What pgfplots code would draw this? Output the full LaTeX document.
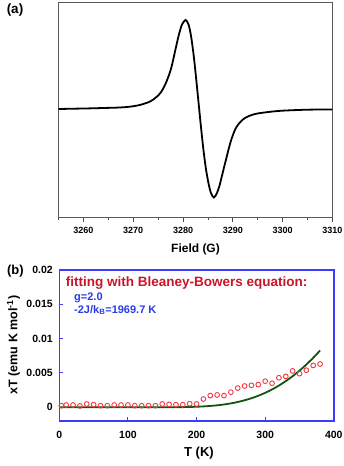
\documentclass[border=0pt]{standalone}
\usepackage{fontspec}
\setmainfont{Liberation Sans}
\usepackage{pgfplots}
\pgfplotsset{compat=1.18}
\definecolor{fitred}{RGB}{204,20,40}
\definecolor{txtblue}{RGB}{40,60,230}
\definecolor{frameblue}{RGB}{60,60,255}
\definecolor{circred}{RGB}{245,55,65}
\definecolor{fitgreen}{RGB}{20,85,20}
\newcommand{\fs}[1]{\fontsize{#1}{#1}\selectfont\bfseries}

\pgfplotstableread{
G y
3255 0
3258 0.3
3261 0.6
3264 1.0
3267.3 1.5
3269.3 2.3
3271.3 4
3273.3 7.3
3274.6 11.7
3275.6 17
3276.6 26.5
3277.6 40.5
3278.5 60
3279.2 75
3279.8 84.5
3280.5 89
3281.1 84.5
3281.6 73
3282.1 55
3282.6 32
3283.1 7
3283.6 -18
3284.1 -41
3284.6 -60
3285.1 -74
3285.6 -84
3286.2 -88.5
3286.8 -84
3287.3 -77
3287.8 -67
3288.6 -51
3289.6 -32
3290.6 -19
3291.6 -12.5
3292.6 -8.5
3294.3 -5.2
3296.3 -3.5
3299.3 -1.9
3303 -1.0
3306 -0.6
3310 -0.5
}\eprdata

\pgfplotstableread{
T chiT
3 0.00023
10 0.00033
20 0.00033
30 0.00019
40 0.00048
50 0.00038
60 0.00023
70 0.00023
80 0.00033
90 0.00033
100 0.00033
110 0.00023
120 0.00023
130 0.00023
140 0.00023
150 0.00048
160 0.00043
170 0.00038
180 0.00038
190 0.00052
200 0.00048
210 0.0012
220 0.0017
230 0.0018
240 0.0017
250 0.0022
260 0.0028
270 0.0031
280 0.0032
290 0.0033
300 0.0038
310 0.0035
320 0.0043
330 0.0045
340 0.0053
350 0.0049
360 0.0054
370 0.0061
380 0.0063
}\expdata

\pgfplotstableread{
T chiT
0 0
50 0
100 0
150 0.000002
180 0.000025
190 0.000047
200 0.000079
210 0.000127
220 0.000194
230 0.000286
240 0.000409
250 0.000567
260 0.000768
270 0.001017
280 0.001318
290 0.001679
300 0.002103
310 0.002596
320 0.003163
330 0.003807
340 0.004529
350 0.005338
360 0.006228
370 0.007208
380 0.00827
}\fitdata

\begin{document}
\begin{tikzpicture}
\useasboundingbox (0pt,0pt) rectangle (344pt,-466pt);

% ---------- (a) EPR spectrum ----------
\begin{axis}[
  at={(58.5pt,-217pt)}, anchor=south west,
  scale only axis, width=274pt, height=214.5pt,
  xmin=3255, xmax=3310, ymin=-108, ymax=106.5,
  axis line style={black!65, line width=0.8pt},
  xtick={3260,3270,...,3310},
  minor xtick={3255,3265,...,3305},
  ytick=\empty,
  xtick pos=left,
  tick align=outside,
  major tick length=5pt, minor tick length=3pt,
  tick style={black!70, line width=0.8pt},
  /pgf/number format/assume math mode=true,
  /pgf/number format/1000 sep={},
  xticklabel style={font=\fs{9}, yshift=-1.5pt},
]
\addplot[black, line width=1.8pt, smooth, tension=0.5] table[x=G, y=y] {\eprdata};
\end{axis}

% ---------- (b) chi T vs T ----------
\begin{axis}[
  at={(59.3pt,-421pt)}, anchor=south west,
  scale only axis, width=274.5pt, height=151pt,
  xmin=0, xmax=400, ymin=-0.002, ymax=0.02,
  axis line style={frameblue, line width=1.6pt},
  xtick={0,100,200,300,400},
  ytick={0,0.005,0.01,0.015,0.02},
  yticklabels={0,0.005,0.01,0.015,0.02},
  scaled y ticks=false,
  xtick pos=left, ytick pos=left,
  tick align=inside,
  major tick length=4pt,
  tick style={frameblue, line width=1pt},
  /pgf/number format/assume math mode=true,
  xticklabel style={font=\fs{10.5}, yshift=-7pt},
  yticklabel style={font=\fs{10.5}, xshift=-3pt},
]
\addplot[fitgreen, line width=1.8pt, smooth] table[x=T, y=chiT] {\fitdata};
\addplot[only marks, mark=o, mark size=2.4pt, circred, line width=0.9pt] table[x=T, y=chiT] {\expdata};
\end{axis}

% ---------- text ----------
\node[font=\fs{13.5}] at (15pt,-10pt) {(a)};
\node[font=\fs{13}] at (15.3pt,-271.3pt) {(b)};
\node[font=\fs{12}] at (195.5pt,-249.5pt) {Field (G)};
\node[font=\fs{13}] at (199pt,-453pt) {T (K)};
\node[font=\fs{12.5}, rotate=90] at (13.5pt,-345pt) {xT (emu K mol\textsuperscript{-1})};
\node[font=\fs{13.5}, text=fitred, anchor=west, inner sep=0pt] at (65.7pt,-283pt) {fitting with Bleaney-Bowers equation:};
\node[font=\fs{11}, text=txtblue, anchor=west, inner sep=0pt] at (74pt,-298pt) {g=2.0};
\node[font=\fs{11}, text=txtblue, anchor=west, inner sep=0pt] at (74pt,-310pt) {-2J/k\textsubscript{B}=1969.7 K};
\end{tikzpicture}
\end{document}
